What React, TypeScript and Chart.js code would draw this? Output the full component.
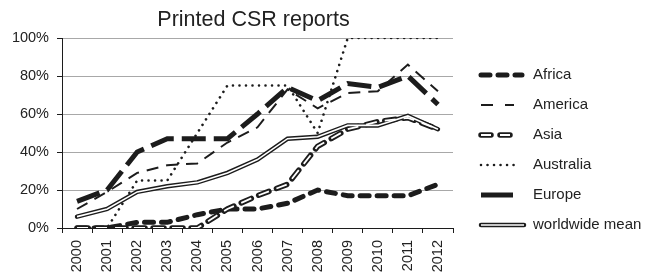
import React, { useEffect, useRef } from 'react';
import { Chart, registerables } from 'chart.js';

Chart.register(...registerables);

const years = ['2000', '2001', '2002', '2003', '2004', '2005', '2006', '2007', '2008', '2009', '2010', '2011', '2012'];
const africa = [0, 0, 3, 3, 7, 10, 10, 13, 20, 17, 17, 17, 23];
const america = [10, 19, 29, 33, 34, 45, 53, 73, 63, 71, 72, 86, 72];
const asia = [0, 0, 0, 0, 0, 10, 17, 23, 43, 52, 56, 58, 52];
const australia = [0, 0, 25, 25, 50, 75, 75, 75, 50, 100, 100, 100, 100];
const europe = [14, 20, 40, 47, 47, 47, 60, 74, 67, 76, 74, 80, 65];
const worldwideMean = [6, 10, 19, 22, 24, 29, 36, 47, 48, 54, 54, 59, 52];
const yTickValues = [0, 20, 40, 60, 80, 100];

const titleText = 'Printed CSR reports';
const FONT = '"Liberation Sans", Arial, Helvetica, sans-serif';
const INK = '#1c1c1c';

const titlePlugin = {
  id: 'centerTitle',
  afterDraw(chart: any) {
    const { ctx, chartArea } = chart;
    ctx.save();
    ctx.font = `21.5px ${FONT}`;
    ctx.fillStyle = '#222';
    ctx.textAlign = 'center';
    ctx.textBaseline = 'middle';
    ctx.fillText(titleText, (chartArea.left + chartArea.right) / 2 - 4, 20);
    ctx.restore();
  },
};

const legendPlugin = {
  id: 'sideLegend',
  afterDraw(chart: any) {
    const { ctx } = chart;
    const ds = chart.data.datasets as any[];
    const main = ds.filter((d) => !d.inner);
    main.forEach((d, i) => {
      const y = 75 + i * 30;
      const x1 = 481;
      const x2 = d.legendEnd || 522;
      const drawSeg = (s: any) => {
        ctx.save();
        ctx.strokeStyle = s.borderColor;
        ctx.lineWidth = s.borderWidth;
        ctx.lineCap = s.borderCapStyle || 'butt';
        ctx.setLineDash(s.legendDash || s.borderDash || []);
        ctx.beginPath();
        ctx.moveTo(x1, y);
        ctx.lineTo(x2, y);
        ctx.stroke();
        ctx.restore();
      };
      drawSeg(d);
      const inner = ds.find((e) => e.inner && e.innerOf === d.label);
      if (inner) drawSeg({ ...inner, legendDash: d.legendDash ? inner.legendDash : undefined, legendEnd: d.legendEnd });
      ctx.save();
      ctx.font = `15px ${FONT}`;
      ctx.fillStyle = '#222';
      ctx.textAlign = 'left';
      ctx.textBaseline = 'middle';
      ctx.fillText(d.label, 533, y);
      ctx.restore();
    });
  },
};

export default function App() {
  const ref = useRef<HTMLCanvasElement>(null);
  useEffect(() => {
    if (!ref.current) return;
    const base = { pointRadius: 0, tension: 0, fill: false, borderColor: INK };
    const datasets: any[] = [
      { ...base, label: 'Africa', data: africa, borderWidth: 5, borderDash: [9, 8], borderCapStyle: 'round', order: 5, legendDash: [9, 8], legendEnd: 522 },
      { ...base, label: 'America', data: america, borderWidth: 2, borderDash: [12, 8], order: 5, legendDash: [12, 12], legendEnd: 514 },
      { ...base, label: 'Asia', data: asia, borderWidth: 5.5, borderDash: [11, 8], borderCapStyle: 'round', order: 5, legendDash: [10, 9], legendEnd: 516 },
      { ...base, label: 'Asia inner', inner: true, innerOf: 'Asia', data: asia, borderColor: '#ffffff', borderWidth: 1.8, borderDash: [11, 8], borderCapStyle: 'butt', order: 1, legendDash: [10, 9] },
      { ...base, label: 'Australia', data: australia, borderWidth: 2.6, borderDash: [0.01, 6.5], borderCapStyle: 'round', order: 5, legendDash: [0.01, 6.5], legendEnd: 517 },
      { ...base, label: 'Europe', data: europe, borderWidth: 5, borderDash: [24, 8], order: 5, legendDash: [], legendEnd: 513 },
      { ...base, label: 'worldwide mean', data: worldwideMean, borderWidth: 4.5, order: 5, borderCapStyle: 'round', legendDash: [], legendEnd: 524 },
      { ...base, label: 'worldwide mean inner', inner: true, innerOf: 'worldwide mean', data: worldwideMean, borderColor: '#ffffff', borderWidth: 1.6, order: 1 },
    ];
    const chart = new Chart(ref.current, {
      type: 'line',
      data: { labels: years, datasets },
      options: {
        responsive: false,
        animation: false,
        layout: { padding: { left: 0, right: 196, top: 38, bottom: 0 } },
        plugins: { legend: { display: false }, title: { display: false }, tooltip: { enabled: false } },
        scales: {
          x: {
            type: 'category',
            offset: true,
            grid: { offset: true, drawOnChartArea: false, tickLength: 5, tickColor: INK, lineWidth: 1 },
            border: { color: INK, width: 1 },
            ticks: { minRotation: 90, maxRotation: 90, autoSkip: false, padding: 7, color: '#222', font: { family: FONT, size: 14.5 } },
            afterFit: (s: any) => { s.height = 47; },
          },
          y: {
            min: 0,
            max: 100,
            afterBuildTicks: (s: any) => { s.ticks = yTickValues.map((v) => ({ value: v })); },
            grid: { color: '#a8a8a8', tickColor: INK, tickLength: 5, lineWidth: 1 },
            border: { color: INK, width: 1 },
            ticks: { padding: 8, color: '#222', font: { family: FONT, size: 14.5 }, callback: (v: any) => `${v}%` },
            afterFit: (s: any) => { s.width = 62; },
          },
        },
      } as any,
      plugins: [titlePlugin, legendPlugin],
    });
    return () => chart.destroy();
  }, []);
  return (
    <div style={{ position: 'absolute', left: 0, top: 0, width: 649, height: 275, background: '#fff' }}>
      <canvas ref={ref} width={649} height={275} style={{ display: 'block' }} />
    </div>
  );
}
